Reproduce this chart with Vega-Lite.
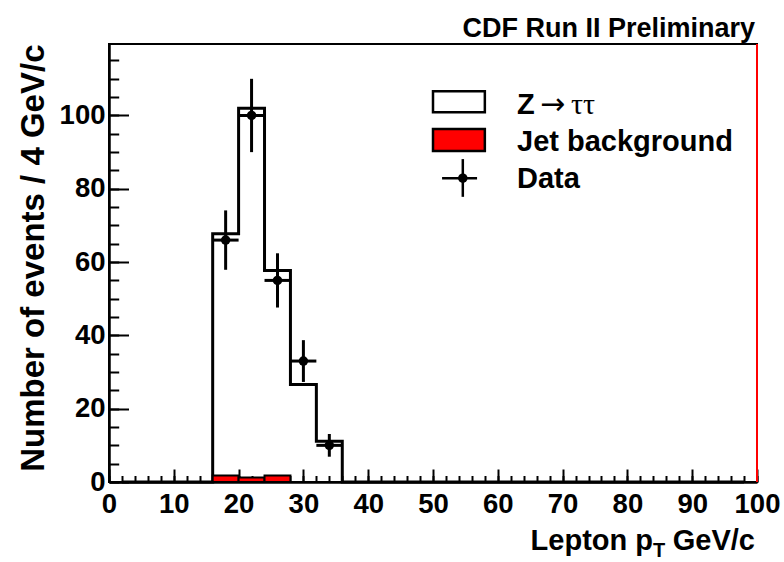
{
  "$schema": "https://vega.github.io/schema/vega-lite/v6.json",
  "width": 648,
  "height": 438,
  "autosize": {"type": "none"},
  "padding": {"left": 109, "top": 44, "right": 27, "bottom": 80},
  "background": "white",
  "config": {
    "font": "Liberation Sans",
    "view": {"stroke": "black", "strokeWidth": 2},
    "axis": {"grid": false, "labelFont": "Liberation Sans", "labelFontWeight": "bold", "labelFontSize": 27.5, "labelColor": "black", "domainColor": "black", "tickColor": "black"}
  },
  "datasets": {
    "bins": [
      {"lo": 0, "hi": 4, "center": 2, "total": 0, "bkg": 0, "data": 0},
      {"lo": 4, "hi": 8, "center": 6, "total": 0, "bkg": 0, "data": 0},
      {"lo": 8, "hi": 12, "center": 10, "total": 0, "bkg": 0, "data": 0},
      {"lo": 12, "hi": 16, "center": 14, "total": 0, "bkg": 0, "data": 0},
      {"lo": 16, "hi": 20, "center": 18, "total": 67.7, "bkg": 1.8, "data": 66, "errLo": 57.9, "errHi": 74.1},
      {"lo": 20, "hi": 24, "center": 22, "total": 102, "bkg": 1.2, "data": 100, "errLo": 90, "errHi": 110},
      {"lo": 24, "hi": 28, "center": 26, "total": 57.7, "bkg": 1.8, "data": 55, "errLo": 47.6, "errHi": 62.4},
      {"lo": 28, "hi": 32, "center": 30, "total": 26.6, "bkg": 0, "data": 33, "errLo": 27.3, "errHi": 38.7},
      {"lo": 32, "hi": 36, "center": 34, "total": 11.1, "bkg": 0, "data": 10, "errLo": 6.9, "errHi": 13.1},
      {"lo": 36, "hi": 40, "center": 38, "total": 0, "bkg": 0, "data": 0},
      {"lo": 40, "hi": 44, "center": 42, "total": 0, "bkg": 0, "data": 0},
      {"lo": 44, "hi": 48, "center": 46, "total": 0, "bkg": 0, "data": 0},
      {"lo": 48, "hi": 52, "center": 50, "total": 0, "bkg": 0, "data": 0},
      {"lo": 52, "hi": 56, "center": 54, "total": 0, "bkg": 0, "data": 0},
      {"lo": 56, "hi": 60, "center": 58, "total": 0, "bkg": 0, "data": 0},
      {"lo": 60, "hi": 64, "center": 62, "total": 0, "bkg": 0, "data": 0},
      {"lo": 64, "hi": 68, "center": 66, "total": 0, "bkg": 0, "data": 0},
      {"lo": 68, "hi": 72, "center": 70, "total": 0, "bkg": 0, "data": 0},
      {"lo": 72, "hi": 76, "center": 74, "total": 0, "bkg": 0, "data": 0},
      {"lo": 76, "hi": 80, "center": 78, "total": 0, "bkg": 0, "data": 0},
      {"lo": 80, "hi": 84, "center": 82, "total": 0, "bkg": 0, "data": 0},
      {"lo": 84, "hi": 88, "center": 86, "total": 0, "bkg": 0, "data": 0},
      {"lo": 88, "hi": 92, "center": 90, "total": 0, "bkg": 0, "data": 0},
      {"lo": 92, "hi": 96, "center": 94, "total": 0, "bkg": 0, "data": 0},
      {"lo": 96, "hi": 100, "center": 98, "total": 0, "bkg": 0, "data": 0}
    ]
  },
  "resolve": {"axis": {"x": "independent", "y": "independent"}},
  "layer": [
    {
      "layer": [
        {
          "data": {"name": "bins"},
          "mark": {"type": "line", "interpolate": "step", "color": "black", "strokeWidth": 3},
          "encoding": {
            "x": {"field": "center", "type": "quantitative",
              "scale": {"domain": [0, 100], "nice": false, "zero": false},
              "axis": {"orient": "bottom", "values": [0, 10, 20, 30, 40, 50, 60, 70, 80, 90, 100], "ticks": false, "domainWidth": 2.5, "labelPadding": 8, "labelFlush": false, "labelOverlap": false, "labelBound": false, "format": "d", "title": null}},
            "y": {"field": "total", "type": "quantitative",
              "scale": {"domain": [0, 119.5], "nice": false, "zero": false},
              "axis": {"orient": "left", "values": [0, 20, 40, 60, 80, 100], "ticks": false, "domainWidth": 2.5, "labelPadding": 4, "labelOverlap": false, "labelBound": false, "labelFlush": false, "format": "d",
                "title": "Number of events / 4 GeV/c", "titleFont": "Liberation Sans", "titleFontWeight": "bold", "titleFontSize": 33, "titleColor": "black", "titleAnchor": "end", "titlePadding": 9}}
          }
        },
        {
          "data": {"name": "bins"},
          "transform": [{"filter": "datum.bkg > 0"}],
          "mark": {"type": "rect", "fill": "#ff0000", "stroke": "black", "strokeWidth": 2},
          "encoding": {
            "x": {"field": "lo", "type": "quantitative"},
            "x2": {"field": "hi"},
            "y": {"field": "bkg", "type": "quantitative"},
            "y2": {"datum": 0}
          }
        },
        {
          "data": {"name": "bins"},
          "transform": [{"filter": "datum.data > 0"}],
          "mark": {"type": "rule", "color": "black", "strokeWidth": 3},
          "encoding": {
            "x": {"field": "center", "type": "quantitative"},
            "y": {"field": "errLo", "type": "quantitative"},
            "y2": {"field": "errHi"}
          }
        },
        {
          "data": {"name": "bins"},
          "transform": [{"filter": "datum.data > 0"}],
          "mark": {"type": "rule", "color": "black", "strokeWidth": 3},
          "encoding": {
            "x": {"field": "lo", "type": "quantitative"},
            "x2": {"field": "hi"},
            "y": {"field": "data", "type": "quantitative"}
          }
        },
        {
          "data": {"name": "bins"},
          "transform": [{"filter": "datum.data > 0"}],
          "mark": {"type": "point", "shape": "circle", "filled": true, "color": "black", "opacity": 1, "size": 90},
          "encoding": {
            "x": {"field": "center", "type": "quantitative"},
            "y": {"field": "data", "type": "quantitative"}
          }
        },
        {
          "data": {"values": [{"edge": "right"}]},
          "mark": {"type": "rule", "color": "#ff0000", "strokeWidth": 2},
          "encoding": {
            "x": {"datum": 100, "type": "quantitative"},
            "y": {"datum": 0, "type": "quantitative"},
            "y2": {"datum": 119.5}
          }
        },
        {
          "data": {"values": [{"series": "Z → ττ"}]},
          "mark": {"type": "rect", "fill": "white", "stroke": "black", "strokeWidth": 2.5},
          "encoding": {
            "x": {"datum": 50, "type": "quantitative"},
            "x2": {"datum": 58},
            "y": {"datum": 100.9, "type": "quantitative"},
            "y2": {"datum": 106.6}
          }
        },
        {
          "data": {"values": [{"series": "Jet background"}]},
          "mark": {"type": "rect", "fill": "#ff0000", "stroke": "black", "strokeWidth": 2.5},
          "encoding": {
            "x": {"datum": 50, "type": "quantitative"},
            "x2": {"datum": 58},
            "y": {"datum": 90.3, "type": "quantitative"},
            "y2": {"datum": 96.3}
          }
        },
        {
          "data": {"values": [{"series": "Data"}]},
          "mark": {"type": "rule", "color": "black", "strokeWidth": 2.5},
          "encoding": {
            "x": {"datum": 51.4, "type": "quantitative"},
            "x2": {"datum": 56.8},
            "y": {"datum": 82.9, "type": "quantitative"}
          }
        },
        {
          "data": {"values": [{"series": "Data"}]},
          "mark": {"type": "rule", "color": "black", "strokeWidth": 2.5},
          "encoding": {
            "x": {"datum": 54.6, "type": "quantitative"},
            "y": {"datum": 77.8, "type": "quantitative"},
            "y2": {"datum": 88.1}
          }
        },
        {
          "data": {"values": [{"series": "Data"}]},
          "mark": {"type": "point", "shape": "circle", "filled": true, "color": "black", "opacity": 1, "size": 90},
          "encoding": {
            "x": {"datum": 54.6, "type": "quantitative"},
            "y": {"datum": 82.9, "type": "quantitative"}
          }
        },
        {
          "data": {"values": [{"text": "Z"}]},
          "mark": {"type": "text", "font": "Liberation Sans", "fontWeight": "bold", "fontSize": 29, "align": "left", "baseline": "alphabetic", "color": "black"},
          "encoding": {
            "x": {"datum": 62.97, "type": "quantitative"},
            "y": {"datum": 100.4, "type": "quantitative"},
            "text": {"field": "text"}
          }
        },
        {
          "data": {"values": [{"text": "→"}]},
          "mark": {"type": "text", "font": "DejaVu Sans", "fontWeight": "normal", "fontSize": 30, "align": "left", "baseline": "alphabetic", "color": "black"},
          "encoding": {
            "x": {"datum": 66.5, "type": "quantitative"},
            "y": {"datum": 100.4, "type": "quantitative"},
            "text": {"field": "text"}
          }
        },
        {
          "data": {"values": [{"text": "ττ"}]},
          "mark": {"type": "text", "font": "Liberation Serif", "fontWeight": "normal", "fontSize": 30, "align": "left", "baseline": "alphabetic", "color": "black"},
          "encoding": {
            "x": {"datum": 71.3, "type": "quantitative"},
            "y": {"datum": 100.4, "type": "quantitative"},
            "text": {"field": "text"}
          }
        },
        {
          "data": {"values": [{"text": "Jet background"}]},
          "mark": {"type": "text", "font": "Liberation Sans", "fontWeight": "bold", "fontSize": 29, "align": "left", "baseline": "alphabetic", "color": "black"},
          "encoding": {
            "x": {"datum": 62.97, "type": "quantitative"},
            "y": {"datum": 90.3, "type": "quantitative"},
            "text": {"field": "text"}
          }
        },
        {
          "data": {"values": [{"text": "Data"}]},
          "mark": {"type": "text", "font": "Liberation Sans", "fontWeight": "bold", "fontSize": 29, "align": "left", "baseline": "alphabetic", "color": "black"},
          "encoding": {
            "x": {"datum": 62.97, "type": "quantitative"},
            "y": {"datum": 80.2, "type": "quantitative"},
            "text": {"field": "text"}
          }
        },
        {
          "data": {"values": [{"text": "CDF Run II Preliminary"}]},
          "mark": {"type": "text", "font": "Liberation Sans", "fontWeight": "bold", "fontSize": 27, "align": "right", "baseline": "alphabetic", "color": "black"},
          "encoding": {
            "x": {"datum": 99.69, "type": "quantitative"},
            "y": {"datum": 121.4, "type": "quantitative"},
            "text": {"field": "text"}
          }
        },
        {
          "data": {"values": [{"text": "Lepton p"}]},
          "mark": {"type": "text", "font": "Liberation Sans", "fontWeight": "bold", "fontSize": 29, "align": "right", "baseline": "alphabetic", "color": "black"},
          "encoding": {
            "x": {"datum": 83.95, "type": "quantitative"},
            "y": {"datum": -18.55, "type": "quantitative"},
            "text": {"field": "text"}
          }
        },
        {
          "data": {"values": [{"text": "T"}]},
          "mark": {"type": "text", "font": "Liberation Sans", "fontWeight": "bold", "fontSize": 20, "align": "left", "baseline": "alphabetic", "color": "black"},
          "encoding": {
            "x": {"datum": 83.95, "type": "quantitative"},
            "y": {"datum": -20.5, "type": "quantitative"},
            "text": {"field": "text"}
          }
        },
        {
          "data": {"values": [{"text": "GeV/c"}]},
          "mark": {"type": "text", "font": "Liberation Sans", "fontWeight": "bold", "fontSize": 29, "align": "right", "baseline": "alphabetic", "color": "black"},
          "encoding": {
            "x": {"datum": 99.69, "type": "quantitative"},
            "y": {"datum": -18.55, "type": "quantitative"},
            "text": {"field": "text"}
          }
        }
      ]
    },
    {
      "data": {"name": "bins"},
      "mark": {"type": "point", "opacity": 0},
      "encoding": {
        "x": {"field": "center", "type": "quantitative",
          "scale": {"domain": [0, 100], "nice": false, "zero": false},
          "axis": {"orient": "bottom", "values": [0, 10, 20, 30, 40, 50, 60, 70, 80, 90, 100], "tickSize": -13, "tickWidth": 2, "labels": false, "domain": false, "title": null}},
        "y": {"field": "total", "type": "quantitative",
          "scale": {"domain": [0, 119.5], "nice": false, "zero": false},
          "axis": {"orient": "left", "values": [0, 20, 40, 60, 80, 100], "tickSize": -19.5, "tickWidth": 2, "labels": false, "domain": false, "title": null}}
      }
    },
    {
      "data": {"name": "bins"},
      "mark": {"type": "point", "opacity": 0},
      "encoding": {
        "x": {"field": "center", "type": "quantitative",
          "scale": {"domain": [0, 100], "nice": false, "zero": false},
          "axis": {"orient": "bottom", "values": [0, 2, 4, 6, 8, 10, 12, 14, 16, 18, 20, 22, 24, 26, 28, 30, 32, 34, 36, 38, 40, 42, 44, 46, 48, 50, 52, 54, 56, 58, 60, 62, 64, 66, 68, 70, 72, 74, 76, 78, 80, 82, 84, 86, 88, 90, 92, 94, 96, 98, 100], "tickSize": -6.5, "tickWidth": 2, "labels": false, "domain": false, "title": null}},
        "y": {"field": "total", "type": "quantitative",
          "scale": {"domain": [0, 119.5], "nice": false, "zero": false},
          "axis": {"orient": "left", "values": [0, 5, 10, 15, 20, 25, 30, 35, 40, 45, 50, 55, 60, 65, 70, 75, 80, 85, 90, 95, 100, 105, 110, 115], "tickSize": -9.7, "tickWidth": 2, "labels": false, "domain": false, "title": null}}
      }
    }
  ]
}
